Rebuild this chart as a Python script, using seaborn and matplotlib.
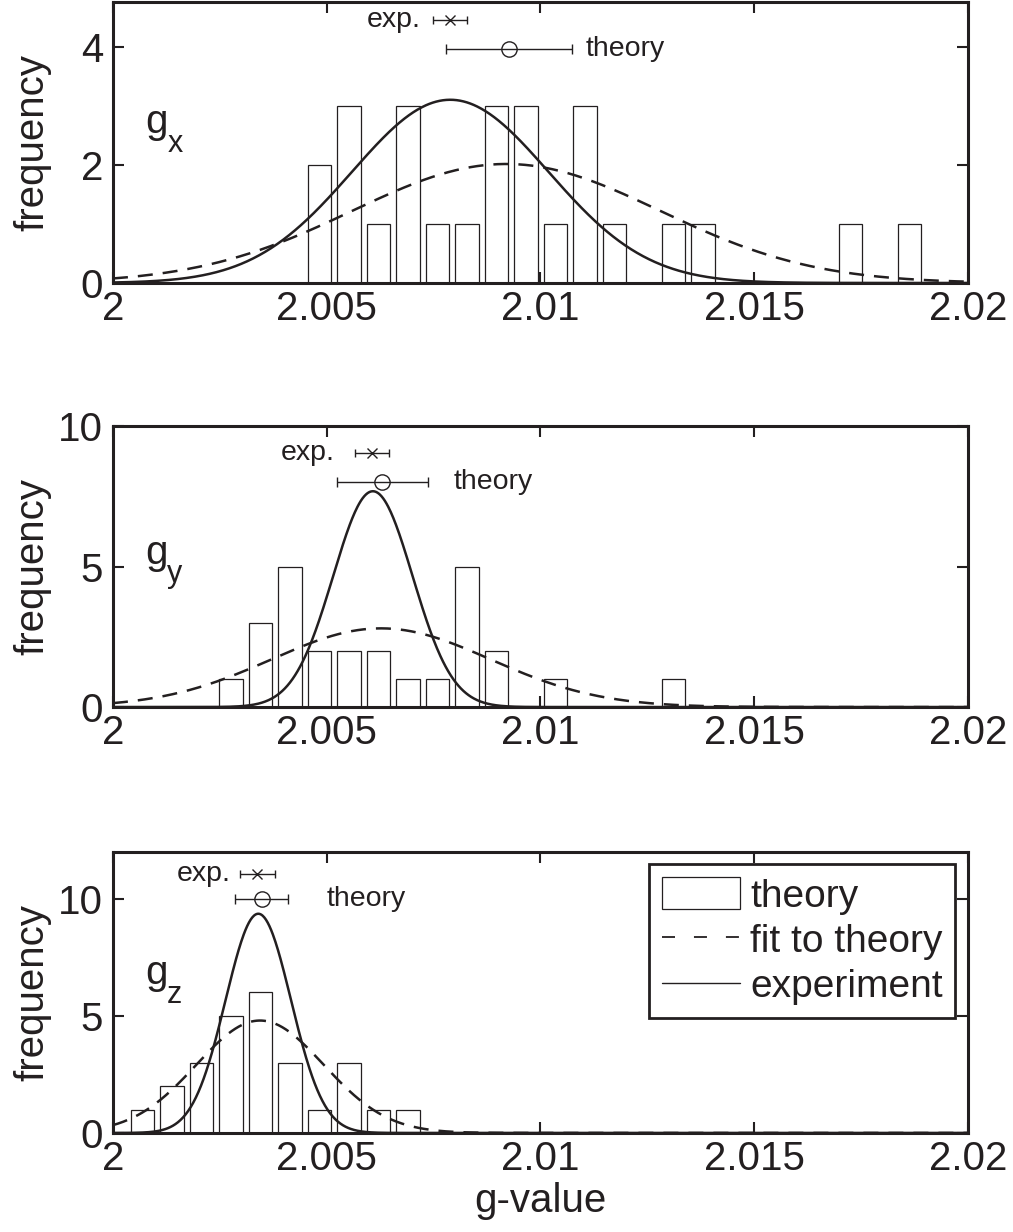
import numpy as np
import pandas as pd
import matplotlib
matplotlib.use("Agg")
import matplotlib.pyplot as plt
import seaborn as sns
from matplotlib.patches import Patch
from matplotlib.lines import Line2D

# ---------------- data ----------------
bin_start = 2.00069          # centre of first histogram bin
bin_width = 0.00069
counts_gx = [0, 0, 0, 0, 0, 0, 2, 3, 1, 3, 1, 1, 3, 3, 1, 3, 1, 0, 1, 1, 0, 0, 0, 0, 1, 0, 1]
counts_gy = [0, 0, 0, 1, 3, 5, 2, 2, 2, 1, 1, 5, 2, 0, 1, 0, 0, 0, 1, 0, 0, 0, 0, 0, 0, 0, 0]
counts_gz = [1, 2, 3, 5, 6, 3, 1, 3, 1, 1, 0, 0, 0, 0, 0, 0, 0, 0, 0, 0, 0, 0, 0, 0, 0, 0, 0]

# gaussian fit to theory (dashed) and experiment (solid)
fit_mean = [2.0092, 2.00627, 2.00344]
fit_sigma = [0.0036, 0.00256, 0.00149]
fit_peak = [2.02, 2.80, 4.80]
exp_mean = [2.00789, 2.00608, 2.00340]
exp_sigma = [0.00230, 0.00093, 0.000765]
exp_peak = [3.11, 7.68, 9.36]

# error-bar points
exp_val = [2.00789, 2.00606, 2.00338]
exp_err = [0.00040, 0.00040, 0.00040]
exp_y = [4.46, 9.03, 11.04]
th_val = [2.00927, 2.00630, 2.00348]
th_err = [0.00147, 0.00106, 0.00062]
th_y = [3.98, 8.00, 9.97]

component = ["x", "y", "z"]
y_max = [4.77, 10, 12]
y_ticks = [[0, 2, 4], [0, 5, 10], [0, 5, 10]]
x_ticks = [2.0, 2.005, 2.01, 2.015, 2.02]
x_ticklabels = ["2", "2.005", "2.01", "2.015", "2.02"]

exp_text_x = [2.00719, 2.00520, 2.00276]
th_text_x = [2.01105, 2.00796, 2.00499]
g_label_x = 2.00075
g_label_y = [2.54, 5.10, 6.37]

legend_labels = ["theory", "fit to theory", "experiment"]

# ---------------- style ----------------
sns.set_style("ticks")
plt.rcParams["font.family"] = ["Liberation Sans", "DejaVu Sans"]
ink = "#231f20"
FS = 29

fig = plt.figure(figsize=(10.13, 12.32), dpi=100)
axes_pos = [
    [0.1115, 0.7703, 0.844, 0.2281],
    [0.1115, 0.4261, 0.844, 0.2281],
    [0.1115, 0.0804, 0.844, 0.2281],
]

centers = np.round(bin_start + bin_width * np.arange(len(counts_gx)), 6)
xs = np.linspace(2.0, 2.02, 1001)
all_counts = [counts_gx, counts_gy, counts_gz]

for i in range(3):
    ax = fig.add_axes(axes_pos[i])
    df = pd.DataFrame({"g": centers, "n": all_counts[i]})
    sns.barplot(data=df, x="g", y="n", native_scale=True, width=0.8, ax=ax,
                color="white", edgecolor=ink, linewidth=0.9, errorbar=None,
                saturation=1)

    fit_y = fit_peak[i] * np.exp(-(xs - fit_mean[i]) ** 2 / (2 * fit_sigma[i] ** 2))
    exp_curve = exp_peak[i] * np.exp(-(xs - exp_mean[i]) ** 2 / (2 * exp_sigma[i] ** 2))
    sns.lineplot(x=xs, y=fit_y, ax=ax, color=ink, linewidth=1.8,
                 linestyle=(0, (6, 4)), estimator=None, errorbar=None)
    sns.lineplot(x=xs, y=exp_curve, ax=ax, color=ink, linewidth=1.8,
                 estimator=None, errorbar=None)

    # error bars
    ax.errorbar([exp_val[i]], [exp_y[i]], xerr=[exp_err[i]], fmt="x", color=ink,
                markersize=7, mew=1.0, elinewidth=1.0, capsize=3, capthick=1.0)
    ax.errorbar([th_val[i]], [th_y[i]], xerr=[th_err[i]], fmt="o", color=ink,
                mfc="none", markersize=11, mew=1.0, elinewidth=1.0, capsize=3.5,
                capthick=1.0)
    ax.text(exp_text_x[i], exp_y[i], "exp.", ha="right", va="center",
            fontsize=20.5, color=ink)
    ax.text(th_text_x[i], th_y[i], "theory", ha="left", va="center",
            fontsize=20.5, color=ink)

    # g label
    ax.text(g_label_x, g_label_y[i], "g", ha="left", va="baseline",
            fontsize=29, color=ink)
    ax.annotate(component[i], xy=(g_label_x, g_label_y[i]), xycoords="data",
                xytext=(16, -13.5), textcoords="offset points", ha="left",
                va="baseline", fontsize=22, color=ink)

    ax.set_xlim(2.0, 2.02)
    ax.set_ylim(0, y_max[i])
    ax.set_xticks(x_ticks)
    ax.set_xticklabels(x_ticklabels)
    ax.set_yticks(y_ticks[i])
    ax.set_yticklabels([str(t) for t in y_ticks[i]])
    ax.tick_params(direction="in", length=8, width=1.5, top=True, right=True,
                   labelsize=FS, colors=ink, labelcolor=ink)
    ax.tick_params(axis="x", pad=5)
    ax.tick_params(axis="y", pad=7)
    for sp in ax.spines.values():
        sp.set_visible(True)
        sp.set_linewidth(2.2)
        sp.set_color(ink)
    ax.set_ylabel("frequency", fontsize=FS, color=ink)
    ax.yaxis.set_label_coords(-0.072, 0.5)
    if i == 2:
        ax.set_xlabel("g-value", fontsize=FS, color=ink, labelpad=3)
        handles = [
            Patch(facecolor="white", edgecolor=ink, linewidth=0.9),
            Line2D([], [], color=ink, linewidth=1.3, linestyle=(0, (7.2, 10.5))),
            Line2D([], [], color=ink, linewidth=1.0),
        ]
        leg = ax.legend(handles, legend_labels, loc="upper right", fontsize=28,
                        frameon=True, fancybox=False, edgecolor=ink, framealpha=1,
                        borderaxespad=0.32, handlelength=2.0, handleheight=0.9,
                        handletextpad=0.27, labelspacing=0.2, borderpad=0.33)
        leg.get_frame().set_linewidth(2.0)
        for t in leg.get_texts():
            t.set_color(ink)
    else:
        ax.set_xlabel("")

fig.savefig("out.png", dpi=100)
